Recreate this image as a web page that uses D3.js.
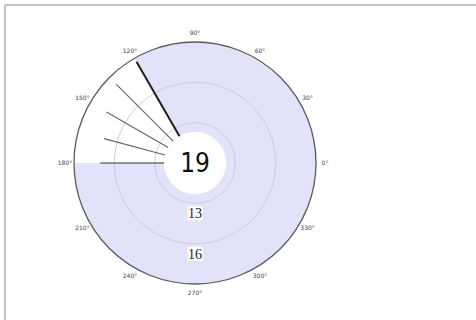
<!DOCTYPE html>
<html>
<head>
<meta charset="utf-8">
<script src="https://cdn.jsdelivr.net/npm/d3@7/dist/d3.min.js"></script>
<style>
  html, body { margin: 0; padding: 0; background: #fff; }
  svg { display: block; }
</style>
</head>
<body>
<svg id="chart" width="476" height="320"></svg>
<script>
// Polar dial: filled coverage band, reading spokes, value rings and angle ticks
const angleTicks = [0, 30, 60, 90, 120, 150, 180, 210, 240, 270, 300, 330];
const ringValues = [13, 16];
const spokeAngles = [120, 135, 150, 165, 180];
const spokeValues = [18.7, 18.3, 17.6, 17.0, 17.05];
const coverageFrom = 180;   // degrees, counter-clockwise from east
const coverageTo = 480;
const centerValue = 19;
const radialDomain = [10, 19];

const W = 476, H = 320;
const cx = 195, cy = 163;
const outerR = 121, holeR = 31;

const svg = d3.select("#chart");

// frame
svg.append("line").attr("x1", 4).attr("x2", W).attr("y1", 5).attr("y2", 5)
  .attr("stroke", "#c4c4c4").attr("stroke-width", 2);
svg.append("line").attr("x1", 5).attr("x2", 5).attr("y1", 4).attr("y2", H)
  .attr("stroke", "#c4c4c4").attr("stroke-width", 2);

const r = d3.scaleLinear().domain(radialDomain).range([0, outerR]);
const toRad = deg => deg * Math.PI / 180;
// math angle (ccw from east) -> d3.arc angle (cw from north)
const arcAngle = deg => toRad(90 - deg);

const g = svg.append("g").attr("transform", `translate(${cx},${cy})`);

// coverage band
g.append("path")
  .attr("d", d3.arc()
    .innerRadius(holeR)
    .outerRadius(r(radialDomain[1]))
    .startAngle(arcAngle(coverageTo))
    .endAngle(arcAngle(coverageFrom))())
  .attr("fill", "#e2e2f8");

// value rings
g.selectAll("circle.ring").data(ringValues).join("circle")
  .attr("class", "ring")
  .attr("r", d => r(d))
  .attr("fill", "none")
  .attr("stroke", "#c9cee2")
  .attr("stroke-width", 1);

// outer rim
g.append("circle").attr("r", r(radialDomain[1]))
  .attr("fill", "none").attr("stroke", "#5a5a5a").attr("stroke-width", 1.3);

// centre hole
g.append("circle").attr("r", holeR).attr("fill", "#fff");

// spokes
const spokes = spokeAngles.map((a, i) => ({ a, v: spokeValues[i], i }));
g.selectAll("line.spoke").data(spokes).join("line")
  .attr("class", "spoke")
  .attr("x1", d => holeR * Math.cos(toRad(d.a)))
  .attr("y1", d => -holeR * Math.sin(toRad(d.a)))
  .attr("x2", d => r(d.v) * Math.cos(toRad(d.a)))
  .attr("y2", d => -r(d.v) * Math.sin(toRad(d.a)))
  .attr("stroke", d => d.i === 0 ? "#1e1e1e" : (d.i === spokes.length - 1 ? "#333" : "#666"))
  .attr("stroke-width", d => d.i === 0 ? 2 : 1.2);

// ring labels on white tags
const tags = g.selectAll("g.tag").data(ringValues).join("g")
  .attr("class", "tag")
  .attr("transform", d => `translate(0,${r(d) + 10})`);
tags.append("rect").attr("x", -7.5).attr("y", -7).attr("width", 15).attr("height", 14)
  .attr("fill", "#fff");
tags.append("text")
  .attr("text-anchor", "middle").attr("dy", "0.36em")
  .attr("font-family", "Liberation Serif, serif").attr("font-size", 14)
  .attr("fill", "#222")
  .text(d => d);

// centre value
g.append("text")
  .attr("text-anchor", "middle").attr("dy", "0.36em")
  .attr("font-family", "DejaVu Sans Condensed, DejaVu Sans, sans-serif")
  .attr("font-size", 26).attr("fill", "#111")
  .text(centerValue);

// angle tick labels
const labR = 130;
g.selectAll("text.ang").data(angleTicks).join("text")
  .attr("class", "ang")
  .attr("x", d => labR * Math.cos(toRad(d)))
  .attr("y", d => -labR * Math.sin(toRad(d)))
  .attr("text-anchor", "middle").attr("dy", "0.35em")
  .attr("font-family", "DejaVu Sans, sans-serif").attr("font-size", 6)
  .attr("fill", "#444")
  .text(d => d + "°");
</script>
</body>
</html>
